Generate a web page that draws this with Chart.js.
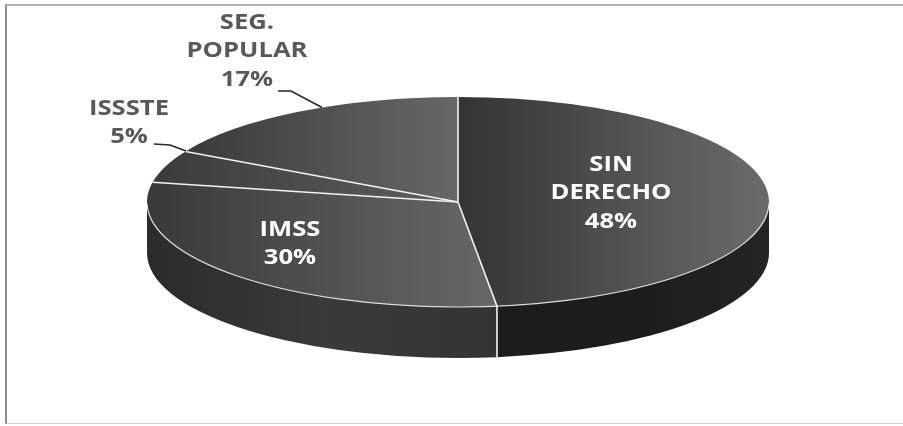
<!DOCTYPE html>
<html>
<head>
<meta charset="utf-8">
<script src="https://cdn.jsdelivr.net/npm/chart.js@4.4.0/dist/chart.umd.min.js"></script>
<style>
  html, body { margin: 0; padding: 0; background: #fff; }
  #wrap { position: relative; width: 903px; height: 426px; overflow: hidden; }
  #frame { position: absolute; left: 5px; top: 4px; width: 900px; height: 420px; box-sizing: border-box;
           border-top: 2px solid #b4b4b4; border-left: 2px solid #8e8e8e; border-bottom: 1px solid #d2d2d2; }
  canvas { position: absolute; left: 0; top: 0; }
</style>
</head>
<body>
<div id="wrap">
  <div id="frame"></div>
  <canvas id="myChart" width="903" height="426"></canvas>
</div>
<script>
// données du graphique
const categories = ['SIN DERECHO', 'IMSS', 'ISSSTE', 'SEG. POPULAR'];
const shares = [48, 30, 5, 17];
const labelLines = [['SIN', 'DERECHO'], ['IMSS'], ['ISSSTE'], ['SEG.', 'POPULAR']];

// forme du camembert aplati (ellipse + épaisseur)
const CX = 458, CY = 202, RX = 311, RY = 105, DEPTH = 51;

// couleurs
const topDark = ['#343434', '#393939', '#3b3b3b', '#3a3a3a'];
const topLight = ['#6b6b6b', '#686868', '#5e5e5e', '#676767'];
const sideStops = [
  ['#1c1c1c', '#1c1c1c', '#242424'],
  ['#2b2b2b', '#3a3a3a', '#333333'],
  ['#333333', '#333333', '#333333'],
  ['#333333', '#333333', '#333333']
];
const labelColors = ['#ffffff', '#ffffff', '#595959', '#595959'];
// position du texte (centre de la première ligne)
const labelPos = [[611, 165], [290, 230], [129, 109], [247, 23]];
// lignes de rappel : début du trait, coude, x du point sur le bord
const leaders = [null, null, [[154, 144], [170, 145], 186], [[278, 91], [291, 91], 322]];

const ctx = document.getElementById('myChart');

function rimY(x) {
  const d = (x - CX) / RX;
  return CY - RY * Math.sqrt(Math.max(0, 1 - d * d));
}

const pie3d = {
  id: 'pie3d',
  beforeDatasetsDraw(chart) {
    const c = chart.ctx;
    const arcs = chart.getDatasetMeta(0).data;
    const r = arcs[0].outerRadius, ox = arcs[0].x, oy = arcs[0].y;

    // côté du cylindre (seulement la partie avant)
    arcs.forEach((arc, i) => {
      const a1 = Math.max(arc.startAngle, 0), a2 = Math.min(arc.endAngle, Math.PI);
      if (a1 >= a2) return;
      const xl = CX + RX * Math.cos(a2), xr = CX + RX * Math.cos(a1);
      const g = c.createLinearGradient(xl, 0, xr, 0);
      g.addColorStop(0, sideStops[i][0]);
      g.addColorStop(0.5, sideStops[i][1]);
      g.addColorStop(1, sideStops[i][2]);
      c.beginPath();
      c.ellipse(CX, CY, RX, RY, 0, a1, a2);
      c.ellipse(CX, CY + DEPTH, RX, RY, 0, a2, a1, true);
      c.closePath();
      c.fillStyle = g;
      c.fill();
    });

    // dégradé horizontal pour chaque part
    arcs.forEach((arc, i) => {
      const xs = [CX];
      for (let k = 0; k <= 60; k++) {
        const a = arc.startAngle + (arc.endAngle - arc.startAngle) * k / 60;
        xs.push(CX + RX * Math.cos(a));
      }
      const x0 = ox + (Math.min(...xs) - CX) * r / RX;
      const x1 = ox + (Math.max(...xs) - CX) * r / RX;
      const g = c.createLinearGradient(x0, 0, x1, 0);
      g.addColorStop(0, topDark[i]);
      g.addColorStop(1, topLight[i]);
      arc.options.backgroundColor = g;
    });

    // on écrase le cercle en ellipse
    c.save();
    c.translate(CX, CY);
    c.scale(RX / r, RY / r);
    c.translate(-ox, -oy);
  },
  afterDatasetsDraw(chart) {
    const c = chart.ctx;
    c.restore();
    const arcs = chart.getDatasetMeta(0).data;

    c.save();
    // bord clair sur l'avant
    c.strokeStyle = 'rgba(235,235,235,0.9)';
    c.lineWidth = 1.2;
    c.beginPath();
    c.ellipse(CX, CY, RX, RY, 0, 0.02, Math.PI - 0.02);
    c.stroke();

    // séparations blanches
    c.strokeStyle = '#f2f2f2';
    c.lineWidth = 1.6;
    arcs.forEach(arc => {
      const a = arc.startAngle;
      const px = CX + RX * Math.cos(a), py = CY + RY * Math.sin(a);
      c.beginPath();
      c.moveTo(CX, CY);
      c.lineTo(px, py);
      if (Math.sin(a) > 0) c.lineTo(px, py + DEPTH);
      c.stroke();
    });

    // lignes de rappel
    c.strokeStyle = '#262626';
    c.lineWidth = 1.6;
    leaders.forEach(l => {
      if (!l) return;
      c.beginPath();
      c.moveTo(l[0][0], l[0][1]);
      c.lineTo(l[1][0], l[1][1]);
      c.lineTo(l[2], rimY(l[2]));
      c.stroke();
    });

    // étiquettes
    c.font = 'bold 21px "Open Sans"';
    c.textAlign = 'center';
    c.textBaseline = 'middle';
    categories.forEach((name, i) => {
      const lines = labelLines[i].concat([shares[i] + '%']);
      c.fillStyle = labelColors[i];
      lines.forEach((t, k) => {
        c.save();
        c.translate(labelPos[i][0], labelPos[i][1] + k * 28.5);
        c.scale(1.22, 1);
        c.fillText(t, 0, 0);
        c.restore();
      });
    });
    c.restore();
  }
};

const myChart = new Chart(ctx, {
  type: 'pie',
  data: {
    labels: categories,
    datasets: [{
      data: shares,
      backgroundColor: topDark,
      borderWidth: 0
    }]
  },
  options: {
    responsive: false,
    animation: false,
    events: [],
    layout: { padding: 0 },
    plugins: {
      legend: { display: false },
      tooltip: { enabled: false }
    }
  },
  plugins: [pie3d]
});
</script>
</body>
</html>
